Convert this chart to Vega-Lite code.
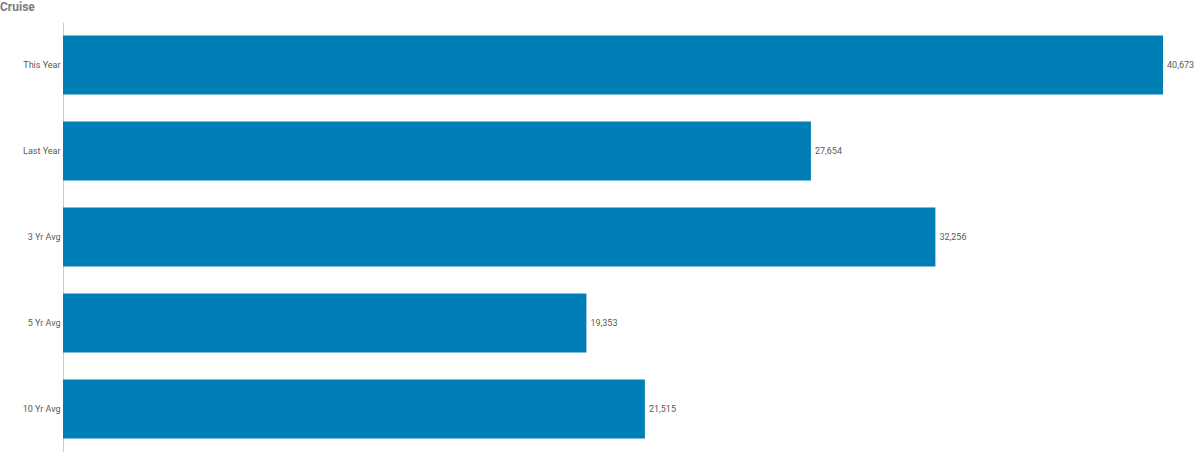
{
  "$schema": "https://vega.github.io/schema/vega-lite/v6.json",
  "autosize": "none",
  "width": 1137,
  "height": 430,
  "padding": {"left": 63, "top": 22, "right": 0, "bottom": 0},
  "background": "white",
  "title": {
    "text": "Cruise",
    "anchor": "start",
    "frame": "group",
    "dx": -63,
    "offset": 8,
    "font": "Roboto",
    "fontSize": 12,
    "fontWeight": "bold",
    "color": "#7b7b7b"
  },
  "data": {
    "values": [
      {"period": "This Year", "visitors": 40673},
      {"period": "Last Year", "visitors": 27654},
      {"period": "3 Yr Avg", "visitors": 32256},
      {"period": "5 Yr Avg", "visitors": 19353},
      {"period": "10 Yr Avg", "visitors": 21515}
    ]
  },
  "config": {
    "view": {"stroke": null},
    "font": "Roboto"
  },
  "encoding": {
    "y": {
      "field": "period",
      "type": "nominal",
      "sort": null,
      "scale": {"paddingInner": 0.314, "paddingOuter": 0.157},
      "axis": {
        "title": null,
        "ticks": false,
        "labelFontSize": 9,
        "labelColor": "#595959",
        "labelPadding": 3,
        "domainColor": "#cccccc",
        "domainWidth": 1
      }
    },
    "x": {
      "field": "visitors",
      "type": "quantitative",
      "scale": {"domain": [0, 42040], "nice": false},
      "axis": null
    }
  },
  "layer": [
    {
      "mark": {"type": "bar", "color": "#007eb6"}
    },
    {
      "mark": {
        "type": "text",
        "align": "left",
        "baseline": "middle",
        "dx": 4,
        "fontSize": 9,
        "color": "#595959"
      },
      "encoding": {
        "text": {"field": "visitors", "type": "quantitative", "format": ","}
      }
    }
  ]
}
